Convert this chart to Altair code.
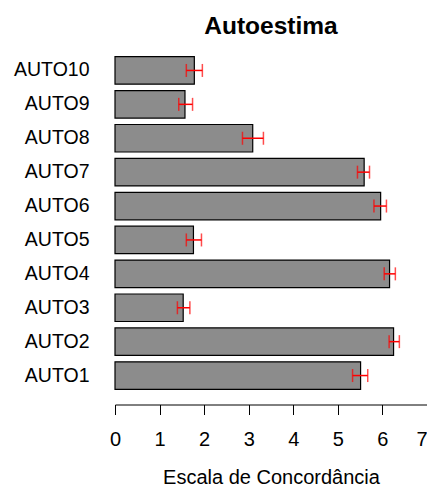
import altair as alt
import pandas as pd

items = ["AUTO1", "AUTO2", "AUTO3", "AUTO4", "AUTO5", "AUTO6", "AUTO7", "AUTO8", "AUTO9", "AUTO10"]
means = [5.51, 6.25, 1.53, 6.16, 1.76, 5.96, 5.59, 3.09, 1.57, 1.78]
err_lo = [5.33, 6.15, 1.40, 6.04, 1.60, 5.81, 5.44, 2.86, 1.43, 1.60]
err_hi = [5.67, 6.38, 1.68, 6.29, 1.94, 6.09, 5.71, 3.33, 1.74, 1.96]
x_ticks = [0, 1, 2, 3, 4, 5, 6, 7]

df = pd.DataFrame({"item": items, "mean": means, "lo": err_lo, "hi": err_hi})
order = list(reversed(items))

FONT = "Liberation Sans"

y_enc = alt.Y("item:N", sort=order, title=None,
              scale=alt.Scale(paddingInner=0.19, paddingOuter=0.095),
              axis=alt.Axis(ticks=False, domain=False, labelFontSize=19.5,
                            labelFont=FONT, labelColor="#000000",
                            labelPadding=26, labelAlign="right"))

x_scale = alt.Scale(domain=[0, 7], nice=False, zero=True)

bars = alt.Chart(df).mark_bar(color="#8c8c8c", stroke="#000000", strokeWidth=1.2).encode(
    x=alt.X("mean:Q", scale=x_scale, title="Escala de Concordância",
            axis=alt.Axis(values=x_ticks, grid=False, offset=12, tickSize=10,
                          tickColor="#000000", domainColor="#000000",
                          labelFontSize=20, labelFont=FONT, labelColor="#000000",
                          labelPadding=15, labelFlush=False, labelOverlap=False,
                          labelAlign=alt.expr("datum.value == 7 ? 'right' : 'center'"),
                          titleFont=FONT, titleFontSize=20, titleFontWeight="normal",
                          titleColor="#000000", titleBaseline="alphabetic",
                          titleY=79)),
    y=y_enc,
)

rules = alt.Chart(df).mark_rule(color="#ff0000", strokeWidth=1.5).encode(
    x=alt.X("lo:Q", scale=x_scale),
    x2="hi:Q",
    y=alt.Y("item:N", sort=order),
)

caps_lo = alt.Chart(df).mark_tick(color="#ff0000", thickness=1.5, size=13, orient="vertical").encode(
    x=alt.X("lo:Q", scale=x_scale),
    y=alt.Y("item:N", sort=order),
)
caps_hi = alt.Chart(df).mark_tick(color="#ff0000", thickness=1.5, size=13, orient="vertical").encode(
    x=alt.X("hi:Q", scale=x_scale),
    y=alt.Y("item:N", sort=order),
)

chart = alt.layer(bars, rules, caps_lo, caps_hi).properties(
    width=312,
    height=339,
    title=alt.TitleParams("Autoestima", font=FONT, fontSize=24.5, fontWeight="bold",
                          color="#000000", anchor="middle", frame="group",
                          offset=14),
    autosize=alt.AutoSizeParams(type="none"),
    padding={"left": 107, "top": 45.5, "right": 0, "bottom": 96.5},
).configure_view(stroke=None)

chart.save("out.html", embed_options={"renderer": "svg", "actions": False})
